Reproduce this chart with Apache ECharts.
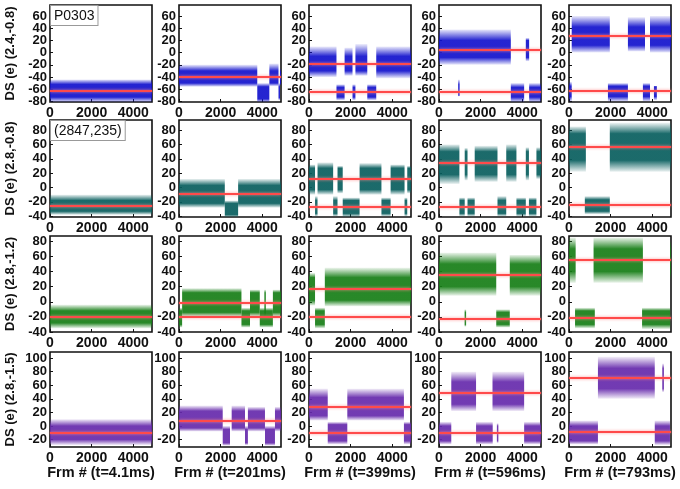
<!DOCTYPE html>
<html>
<head>
<meta charset="utf-8">
<script src="https://cdn.jsdelivr.net/npm/echarts@6/dist/echarts.min.js"></script>
<style>
  html, body { margin: 0; padding: 0; background: #fff; }
  #chart { width: 680px; height: 489px; }
</style>
</head>
<body>
<div id="chart"></div>
<script>
// ---- data ----
const frameMax = 4900;
const xTicks = [0, 2000, 4000];
const rowTitles = ['DS (e) (2.4,-0.8)', 'DS (e) (2.8,-0.8)', 'DS (e) (2.8,-1.2)', 'DS (e) (2.8,-1.5)'];
const colTitles = ['Frm # (t=4.1ms)', 'Frm # (t=201ms)', 'Frm # (t=399ms)', 'Frm # (t=596ms)', 'Frm # (t=793ms)'];
const yMin = [-81, -41, -40, -31];
const yMax = [78, 94, 87, 109];
const yTicks = [
    [-80, -60, -40, -20, 0, 20, 40, 60],
    [-40, -20, 0, 20, 40, 60, 80],
    [-40, -20, 0, 20, 40, 60, 80],
    [-20, 0, 20, 40, 60, 80, 100]
];
const rowColors = [[18, 18, 205], [8, 94, 94], [22, 126, 22], [102, 42, 172]];

// red level lines, per panel
const levels1 = [[-62], [-40], [-18, -64], [5, -64], [27, -63]];
const levels2 = [[-25], [-9], [12, -27], [35, -27], [57, -24]];
const levels3 = [[-20], [-1, -20], [17, -20], [36, -22], [55, -21]];
const levels4 = [[-10], [8], [28, -10], [49, -10], [71, -9]];

// point clouds: [frameStart, frameEnd, coreLow, coreHigh, spreadLow, spreadHigh]
const segs1 = [
    [[0, 4900, -73, -52, -81, -44]],
    [[0, 3760, -50, -30, -56, -20], [3760, 4340, -76, -56, -81, -50], [4340, 4780, -50, -30, -55, -18],
     [4780, 4850, -74, -56, -78, -50], [4850, 4900, -50, -32, -54, -26]],
    [[0, 1320, -30, -6, -40, 10], [1710, 2090, -30, -6, -38, 8], [2230, 2800, -30, -6, -38, 14], [3230, 4900, -30, -6, -42, 10],
     [1320, 1710, -73, -57, -78, -52], [2090, 2230, -73, -57, -78, -52], [2800, 3230, -73, -57, -78, -52]],
    [[0, 3450, -8, 20, -20, 38], [3450, 4090, -73, -57, -81, -50], [4170, 4330, -8, 20, -14, 24],
     [4330, 4900, -73, -57, -81, -50], [920, 980, -70, -52, -72, -44]],
    [[130, 1960, 12, 42, 0, 60], [2830, 3650, 12, 42, 2, 58], [3890, 4900, 12, 42, 0, 60],
     [0, 130, -72, -55, -80, -48], [1870, 2830, -72, -55, -80, -50], [3550, 3890, -72, -55, -80, -50], [4080, 4220, -72, -55, -78, -55]]
];
const segs2 = [
    [[0, 4900, -33, -18, -38, -10]],
    [[0, 2200, -22, 3, -28, 12], [2840, 4900, -22, 3, -28, 12], [2200, 2840, -38, -22, -41, -18]],
    [[0, 290, -3, 27, -10, 32], [410, 1160, -3, 27, -10, 35], [1370, 1620, -3, 27, -8, 30], [2430, 3480, -3, 27, -10, 34],
     [3920, 4590, -3, 27, -10, 32], [4720, 4900, -3, 27, -8, 30],
     [290, 410, -36, -18, -40, -12], [1160, 1370, -36, -18, -40, -12], [1620, 2430, -36, -18, -41, -14],
     [3480, 3920, -36, -18, -40, -14], [4590, 4720, -36, -18, -40, -14]],
    [[0, 980, 18, 50, 5, 60], [1235, 1370, 18, 50, 10, 55], [1715, 2810, 18, 50, 8, 58], [3230, 3720, 18, 50, 8, 60],
     [4170, 4320, 18, 50, 10, 56], [4680, 4900, 18, 50, 12, 56],
     [980, 1235, -36, -18, -40, -14], [1370, 1715, -36, -18, -40, -14], [2810, 3230, -36, -18, -40, -12],
     [3720, 4170, -36, -18, -40, -14], [4320, 4680, -36, -18, -40, -14]],
    [[0, 810, 38, 75, 22, 85], [1960, 4900, 38, 75, 22, 90], [760, 1960, -33, -17, -37, -12]]
];
const segs3 = [
    [[0, 4900, -28, -12, -35, -4]],
    [[150, 3000, -14, 12, -20, 18], [3410, 3880, -14, 12, -20, 16], [4100, 4140, -14, 12, -20, 16], [4510, 4900, -14, 12, -20, 16],
     [0, 150, -30, -12, -34, -8], [3000, 3410, -30, -12, -34, -8], [3880, 4510, -30, -12, -34, -8]],
    [[0, 290, 2, 32, -5, 38], [760, 4900, 2, 32, -6, 45], [290, 760, -30, -12, -35, -8]],
    [[0, 2750, 20, 50, 8, 65], [3400, 4900, 20, 50, 8, 62], [1230, 1260, -30, -14, -33, -10], [2750, 3400, -30, -14, -34, -10]],
    [[0, 320, 40, 70, 25, 85], [1180, 3550, 40, 70, 25, 85], [4860, 4900, 40, 70, 30, 80],
     [290, 1240, -30, -12, -35, -8], [3510, 4860, -30, -12, -36, -8]]
];
const segs4 = [
    [[0, 4900, -20, 0, -28, 10]],
    [[0, 2100, -3, 22, -8, 30], [2530, 3170, -3, 22, -8, 30], [3310, 4130, -3, 22, -8, 28], [4610, 4900, -3, 22, -8, 28],
     [2100, 2450, -25, -5, -29, 0], [3170, 3310, -25, -5, -28, 0], [4130, 4610, -25, -5, -29, 0]],
    [[0, 900, 15, 42, 8, 55], [1840, 4560, 15, 42, 8, 55], [900, 1840, -22, 2, -27, 6], [4560, 4900, -22, 2, -27, 6]],
    [[590, 1780, 32, 65, 22, 80], [2570, 4090, 32, 65, 22, 80],
     [0, 590, -22, 0, -27, 6], [1780, 2580, -22, 0, -27, 6], [2780, 2820, -22, 0, -25, 4], [4090, 4900, -22, 0, -27, 6]],
    [[1390, 4120, 55, 85, 40, 102], [4480, 4560, 55, 85, 50, 92], [0, 1390, -22, 0, -27, 8], [4120, 4850, -22, 0, -28, 8]]
];

const allLevels = [levels1, levels2, levels3, levels4];
const allSegs = [segs1, segs2, segs3, segs4];

// ---- layout ----
const gridLefts = [50, 179, 309, 439, 569];
const gridWidth = 102;
const gridTops = [5, 120, 236, 352];
const gridHeights = [97, 97, 96, 95];

const myChart = echarts.init(document.getElementById('chart'));

function rgba(c, a) {
    return 'rgba(' + c[0] + ',' + c[1] + ',' + c[2] + ',' + a + ')';
}

// one cloud of points drawn as a band: solid core, faded fringe of outliers
function bandRenderer(c) {
    return function (params, api) {
        const x0 = api.value(0), x1 = api.value(1);
        const tl = api.coord([x0, api.value(5)]);
        const br = api.coord([x1, api.value(4)]);
        const coreTop = api.coord([x0, api.value(3)])[1];
        const coreBot = api.coord([x0, api.value(2)])[1];
        let w = br[0] - tl[0];
        if (w < 1.5) w = 1.5;
        const h = br[1] - tl[1];
        const o1 = Math.min(Math.max((coreTop - tl[1]) / h, 0), 1);
        const o2 = Math.min(Math.max((coreBot - tl[1]) / h, o1), 1);
        return {
            type: 'rect',
            shape: {x: tl[0], y: tl[1], width: w, height: h},
            style: {
                fill: new echarts.graphic.LinearGradient(0, 0, 0, 1, [
                    {offset: 0, color: rgba(c, 0.08)},
                    {offset: o1, color: rgba(c, 0.92)},
                    {offset: o2, color: rgba(c, 0.92)},
                    {offset: 1, color: rgba(c, 0.08)}
                ])
            }
        };
    };
}

const font = '"Liberation Sans", Arial, sans-serif';
const grids = [], xAxes = [], yAxes = [], series = [], graphics = [];

function yLabel(values) {
    return {
        customValues: values, color: '#111', fontWeight: 'bold', fontSize: 13,
        fontFamily: font, margin: 3, hideOverlap: false,
        showMinLabel: true, showMaxLabel: true,
        formatter: v => String(v)
    };
}

for (let r = 0; r < 4; r++) {
    // labels sit close together, so split them over two overlaid axes
    const evenLabels = yTicks[r].filter((v, i) => i % 2 === 0);
    const oddLabels = yTicks[r].filter((v, i) => i % 2 === 1);
    for (let c = 0; c < 5; c++) {
        const idx = grids.length;
        grids.push({
            left: gridLefts[c], top: gridTops[r], width: gridWidth, height: gridHeights[r],
            show: true, borderColor: '#111', borderWidth: 1.6, backgroundColor: '#fff'
        });
        xAxes.push({
            type: 'value', gridIndex: idx, min: 0, max: frameMax,
            axisLine: {show: false, onZero: false},
            axisTick: {show: true, inside: true, length: 3, customValues: xTicks, lineStyle: {color: '#111'}},
            axisLabel: {
                customValues: xTicks, color: '#111', fontWeight: 'bold', fontSize: 14,
                fontFamily: font, margin: 4, hideOverlap: false,
                showMinLabel: true, showMaxLabel: true,
                formatter: v => String(v)
            },
            splitLine: {show: false},
            name: r === 3 ? colTitles[c] : '',
            nameLocation: 'middle', nameGap: 17,
            nameTextStyle: {color: '#111', fontWeight: 'bold', fontSize: 14.5, fontFamily: font}
        });
        const yIdx = yAxes.length;
        yAxes.push({
            type: 'value', gridIndex: idx, min: yMin[r], max: yMax[r], position: 'left',
            axisLine: {show: false, onZero: false},
            axisTick: {show: true, inside: true, length: 3, customValues: yTicks[r], lineStyle: {color: '#111'}},
            axisLabel: yLabel(evenLabels),
            splitLine: {show: false},
            name: c === 0 ? rowTitles[r] : '',
            nameLocation: 'middle', nameGap: 33, nameRotate: 90,
            nameTextStyle: {color: '#111', fontWeight: 'bold', fontSize: 13, fontFamily: font}
        });
        yAxes.push({
            type: 'value', gridIndex: idx, min: yMin[r], max: yMax[r], position: 'left', offset: 0,
            axisLine: {show: false, onZero: false},
            axisTick: {show: false},
            axisLabel: yLabel(oddLabels),
            splitLine: {show: false}
        });
        series.push({
            type: 'custom', xAxisIndex: idx, yAxisIndex: yIdx,
            clip: true, silent: true, animation: false,
            renderItem: bandRenderer(rowColors[r]),
            encode: {x: [0, 1], y: [2, 3, 4, 5]},
            data: allSegs[r][c],
            markLine: {
                silent: true, symbol: 'none', animation: false,
                label: {show: false},
                lineStyle: {
                    color: '#ff4a4a', width: 2, type: 'solid',
                    shadowColor: 'rgba(255,140,140,0.9)', shadowBlur: 3
                },
                data: allLevels[r][c].map(v => ({yAxis: v}))
            }
        });
    }
}

// panel annotations
graphics.push({
    type: 'text', left: gridLefts[0], top: gridTops[0], z: 100,
    style: {
        text: 'P0303', font: '14px ' + font, fill: '#111',
        backgroundColor: '#fff', borderColor: '#999', borderWidth: 1, padding: [3, 3, 2, 3]
    }
});
graphics.push({
    type: 'text', left: gridLefts[0], top: gridTops[1], z: 100,
    style: {
        text: '(2847,235)', font: '14px ' + font, fill: '#111',
        backgroundColor: '#fff', borderColor: '#999', borderWidth: 1, padding: [3, 3, 2, 3]
    }
});

const option = {
    backgroundColor: '#fff',
    animation: false,
    grid: grids,
    xAxis: xAxes,
    yAxis: yAxes,
    series: series,
    graphic: graphics
};

myChart.setOption(option);
</script>
</body>
</html>
